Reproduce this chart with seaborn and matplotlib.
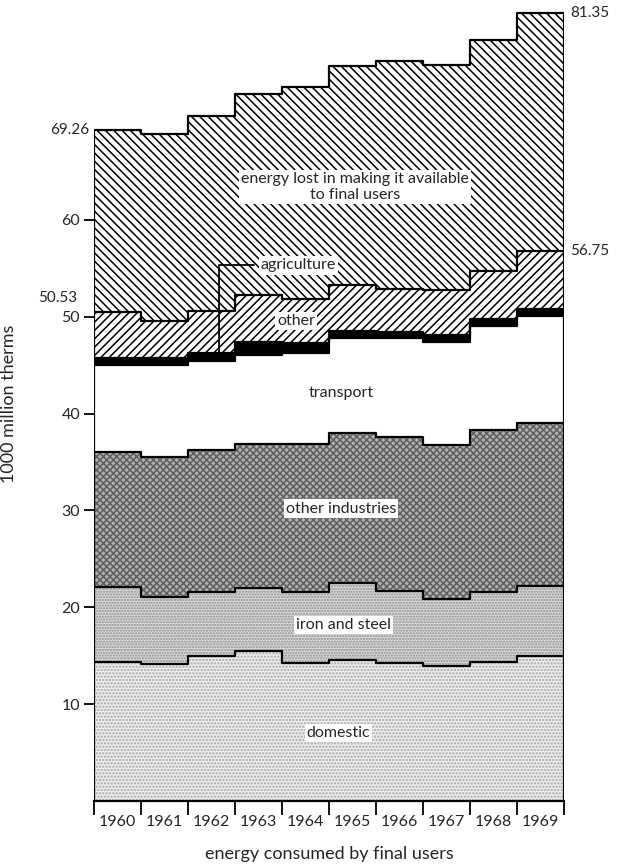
import numpy as np
import pandas as pd
import seaborn as sns
import matplotlib.pyplot as plt

# valeurs (1000 million therms)
years = [1960, 1961, 1962, 1963, 1964, 1965, 1966, 1967, 1968, 1969]
domestic = [14.4, 14.1, 15.0, 15.5, 14.2, 14.6, 14.2, 13.9, 14.4, 15.0]
iron_steel = [7.7, 7.0, 6.6, 6.5, 7.4, 7.9, 7.5, 7.0, 7.2, 7.2]
other_industries = [13.9, 14.4, 14.6, 14.9, 15.25, 15.55, 15.9, 15.9, 16.7, 16.8]
transport = [9.0, 9.5, 9.2, 9.15, 9.4, 9.75, 10.2, 10.55, 10.7, 11.1]
agriculture = [0.7, 0.7, 0.9, 1.3, 1.05, 0.7, 0.6, 0.75, 0.8, 0.7]
other = [4.83, 3.9, 4.35, 4.95, 4.5, 4.75, 4.5, 4.65, 4.95, 5.95]
energy_lost = [18.73, 19.24, 20.12, 20.7, 21.9, 22.68, 23.5, 23.25, 23.85, 24.6]

y_ticks = [10, 20, 30, 40, 50, 60]
end_labels_left = ['69.26', '50.53']
end_labels_right = ['81.35', '56.75']

df = pd.DataFrame({'year': years, 'domestic': domestic, 'iron and steel': iron_steel,
                   'other industries': other_industries, 'transport': transport,
                   'agriculture': agriculture, 'other': other, 'lost': energy_lost})

sns.set_theme(style='white')
plt.rcParams['font.family'] = ['Lato', 'DejaVu Sans']
plt.rcParams['hatch.linewidth'] = 1.1

fig = plt.figure(figsize=(6.18, 8.65), dpi=100)
ax = fig.add_axes([0.152, 0.074, 0.761, 0.918])

# styles des couches : (facecolor, hatch, couleur du motif)
styles = {
    'domestic': ('#ececec', '.....', '#a8a8a8'),
    'iron and steel': ('#dcdcdc', '......', '#8c8c8c'),
    'other industries': ('#b0b0b0', 'xxxxx', '#5e5e5e'),
    'transport': ('white', None, 'white'),
    'agriculture': ('black', None, 'black'),
    'other': ('white', '////', 'black'),
    'lost': ('white', '\\\\\\\\', 'black'),
}
layers = ['domestic', 'iron and steel', 'other industries', 'transport',
          'agriculture', 'other', 'lost']

edges = np.arange(years[0], years[-1] + 2)
bottom = np.zeros(len(years))
tops = {}
for col in layers:
    top = bottom + df[col].to_numpy()
    fc, hatch, hc = styles[col]
    ax.fill_between(edges, np.append(bottom, bottom[-1]), np.append(top, top[-1]),
                    step='post', facecolor=fc, hatch=hatch, edgecolor=hc, linewidth=0)
    tops[col] = top
    bottom = top

# contours en escalier
for col in layers:
    sns.lineplot(x=edges, y=np.append(tops[col], tops[col][-1]), drawstyle='steps-post',
                 color='black', linewidth=1.6, ax=ax)
ax.vlines([edges[0]], 0, tops['lost'][0], color='black', linewidth=1.6)
ax.vlines([edges[-1]], 0, tops['lost'][-1], color='black', linewidth=1.6)

ax.set_xlim(edges[0], edges[-1])
ax.set_ylim(0, 82)
for s in ['top', 'right', 'left']:
    ax.spines[s].set_visible(False)
ax.spines['bottom'].set_color('black')
ax.spines['bottom'].set_linewidth(1.6)

ax.set_yticks(y_ticks)
ax.set_yticklabels([str(t) for t in y_ticks], fontsize=11.5)
ax.tick_params(axis='y', direction='out', length=7, width=1.3, color='black', left=True, pad=3)

ax.set_xticks(edges)
ax.set_xticklabels([])
ax.set_xticks(np.array(years) + 0.5, minor=True)
ax.set_xticklabels([str(y) for y in years], minor=True, fontsize=11.5)
ax.tick_params(axis='x', which='major', direction='out', length=10, width=1.3, color='black', bottom=True)
ax.tick_params(axis='x', which='minor', length=0, pad=10)

ax.set_ylabel('1000 million therms', fontsize=13, labelpad=32)
ax.set_xlabel('energy consumed by final users', fontsize=13, labelpad=12)

# étiquettes des extrémités
ax.text(edges[0] - 0.1, tops['lost'][0], end_labels_left[0], ha='right', va='center', fontsize=11)
ax.text(edges[0] - 0.35, tops['other'][0] + 1.4, end_labels_left[1], ha='right', va='center', fontsize=11)
ax.text(edges[-1] + 0.12, tops['lost'][-1], end_labels_right[0], ha='left', va='center',
        fontsize=11, clip_on=False)
ax.text(edges[-1] + 0.12, tops['other'][-1], end_labels_right[1], ha='left', va='center',
        fontsize=11, clip_on=False)

box = dict(facecolor='white', edgecolor='none', pad=1.5)
ax.text(1965.55, 63.4, 'energy lost in making it available\nto final users', ha='center',
        va='center', fontsize=11.5, bbox=box, linespacing=1.2)
ax.text(1964.35, 55.3, 'agriculture', ha='center', va='center', fontsize=11.5, bbox=box)
ax.plot([1963.4, 1962.66, 1962.66], [55.3, 55.3, 45.8], color='black', linewidth=1.3)
ax.text(1964.3, 49.6, 'other', ha='center', va='center', fontsize=11.5, bbox=box)
ax.text(1965.25, 42.1, 'transport', ha='center', va='center', fontsize=11.5, bbox=box)
ax.text(1965.25, 30.2, 'other industries', ha='center', va='center', fontsize=11.5, bbox=box)
ax.text(1965.3, 18.2, 'iron and steel', ha='center', va='center', fontsize=11.5, bbox=box)
ax.text(1965.2, 7.0, 'domestic', ha='center', va='center', fontsize=11.5, bbox=box)

fig.savefig('out.png', dpi=100)
